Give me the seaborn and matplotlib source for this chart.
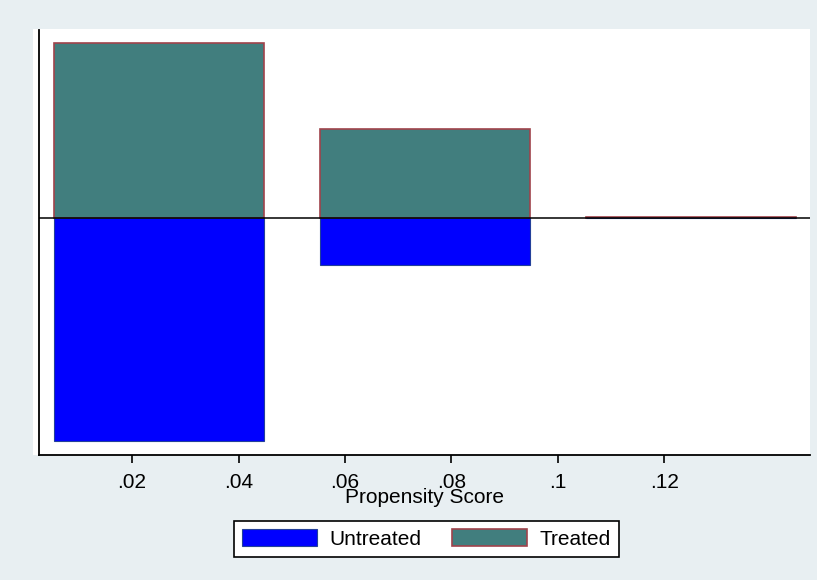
import matplotlib
matplotlib.use("Agg")
import matplotlib.pyplot as plt
import seaborn as sns
from matplotlib.patches import Patch, Rectangle

# bin centres of the propensity score histogram (bins of width .05)
bin_centers = [0.025, 0.075, 0.125]
treated_freq = [35.0, 17.8, 0.3]
untreated_freq = [44.6, 9.4, 0.0]

tick_values = [0.02, 0.04, 0.06, 0.08, 0.10, 0.12]
tick_labels = [".02", ".04", ".06", ".08", ".1", ".12"]

teal = "#417E7E"
teal_edge = "#A0434B"
blue = "#0000FF"
blue_edge = "#23409A"
bg = "#E8EFF2"

sns.set_theme(style="white")
plt.rcParams["font.family"] = ["Liberation Sans", "DejaVu Sans"]
plt.rcParams["text.color"] = "black"
plt.rcParams["axes.labelcolor"] = "black"
plt.rcParams["xtick.color"] = "black"

fig = plt.figure(figsize=(8.17, 5.8), dpi=100, facecolor=bg)
# white plot region (slightly larger than axes, like Stata's plotregion)
fig.patches.append(Rectangle((33 / 817, 1 - 455 / 580), (810 - 33) / 817, (455 - 29) / 580,
                             transform=fig.transFigure, facecolor="white", edgecolor="none", zorder=-5))
ax = fig.add_axes([39 / 817, 1 - 455 / 580, (810 - 39) / 817, (455 - 30) / 580])
ax.set_facecolor("white")

# treated above zero, untreated mirrored below
sns.barplot(x=bin_centers, y=treated_freq, native_scale=True, width=0.79, color=teal,
            saturation=1, edgecolor=teal_edge, linewidth=1.2, errorbar=None, ax=ax)
sns.barplot(x=bin_centers, y=[-v for v in untreated_freq], native_scale=True, width=0.79,
            color=blue, saturation=1, edgecolor=blue_edge, linewidth=0.8, errorbar=None, ax=ax)

ax.axhline(0, color="black", linewidth=1.1, zorder=5)

ax.set_xlim(0.0025, 0.1474)
ax.set_ylim(-47.4, 37.6)
ax.set_xticks(tick_values)
ax.set_xticklabels(tick_labels, fontsize=15)
ax.set_yticks([])
ax.tick_params(axis="x", bottom=True, length=6, width=1.2, color="black", pad=7)
ax.set_xlabel("Propensity Score", fontsize=15, labelpad=-3)
ax.set_ylabel("")

for side in ["top", "right"]:
    ax.spines[side].set_visible(False)
for side in ["left", "bottom"]:
    ax.spines[side].set_color("black")
    ax.spines[side].set_linewidth(1.3)

handles = [Patch(facecolor=blue, edgecolor=blue_edge, linewidth=0.8, label="Untreated"),
           Patch(facecolor=teal, edgecolor=teal_edge, linewidth=1.2, label="Treated")]
leg = fig.legend(handles=handles, loc="center", bbox_to_anchor=(0.5215, 0.0707), ncol=2,
                 fontsize=15, frameon=True, fancybox=False, framealpha=1, edgecolor="black",
                 handlelength=3.6, handleheight=0.9, handletextpad=0.6, columnspacing=1.45,
                 borderpad=0.4, borderaxespad=0.3)
leg.get_frame().set_linewidth(1.2)

fig.savefig("out.png", dpi=100, facecolor=bg)
